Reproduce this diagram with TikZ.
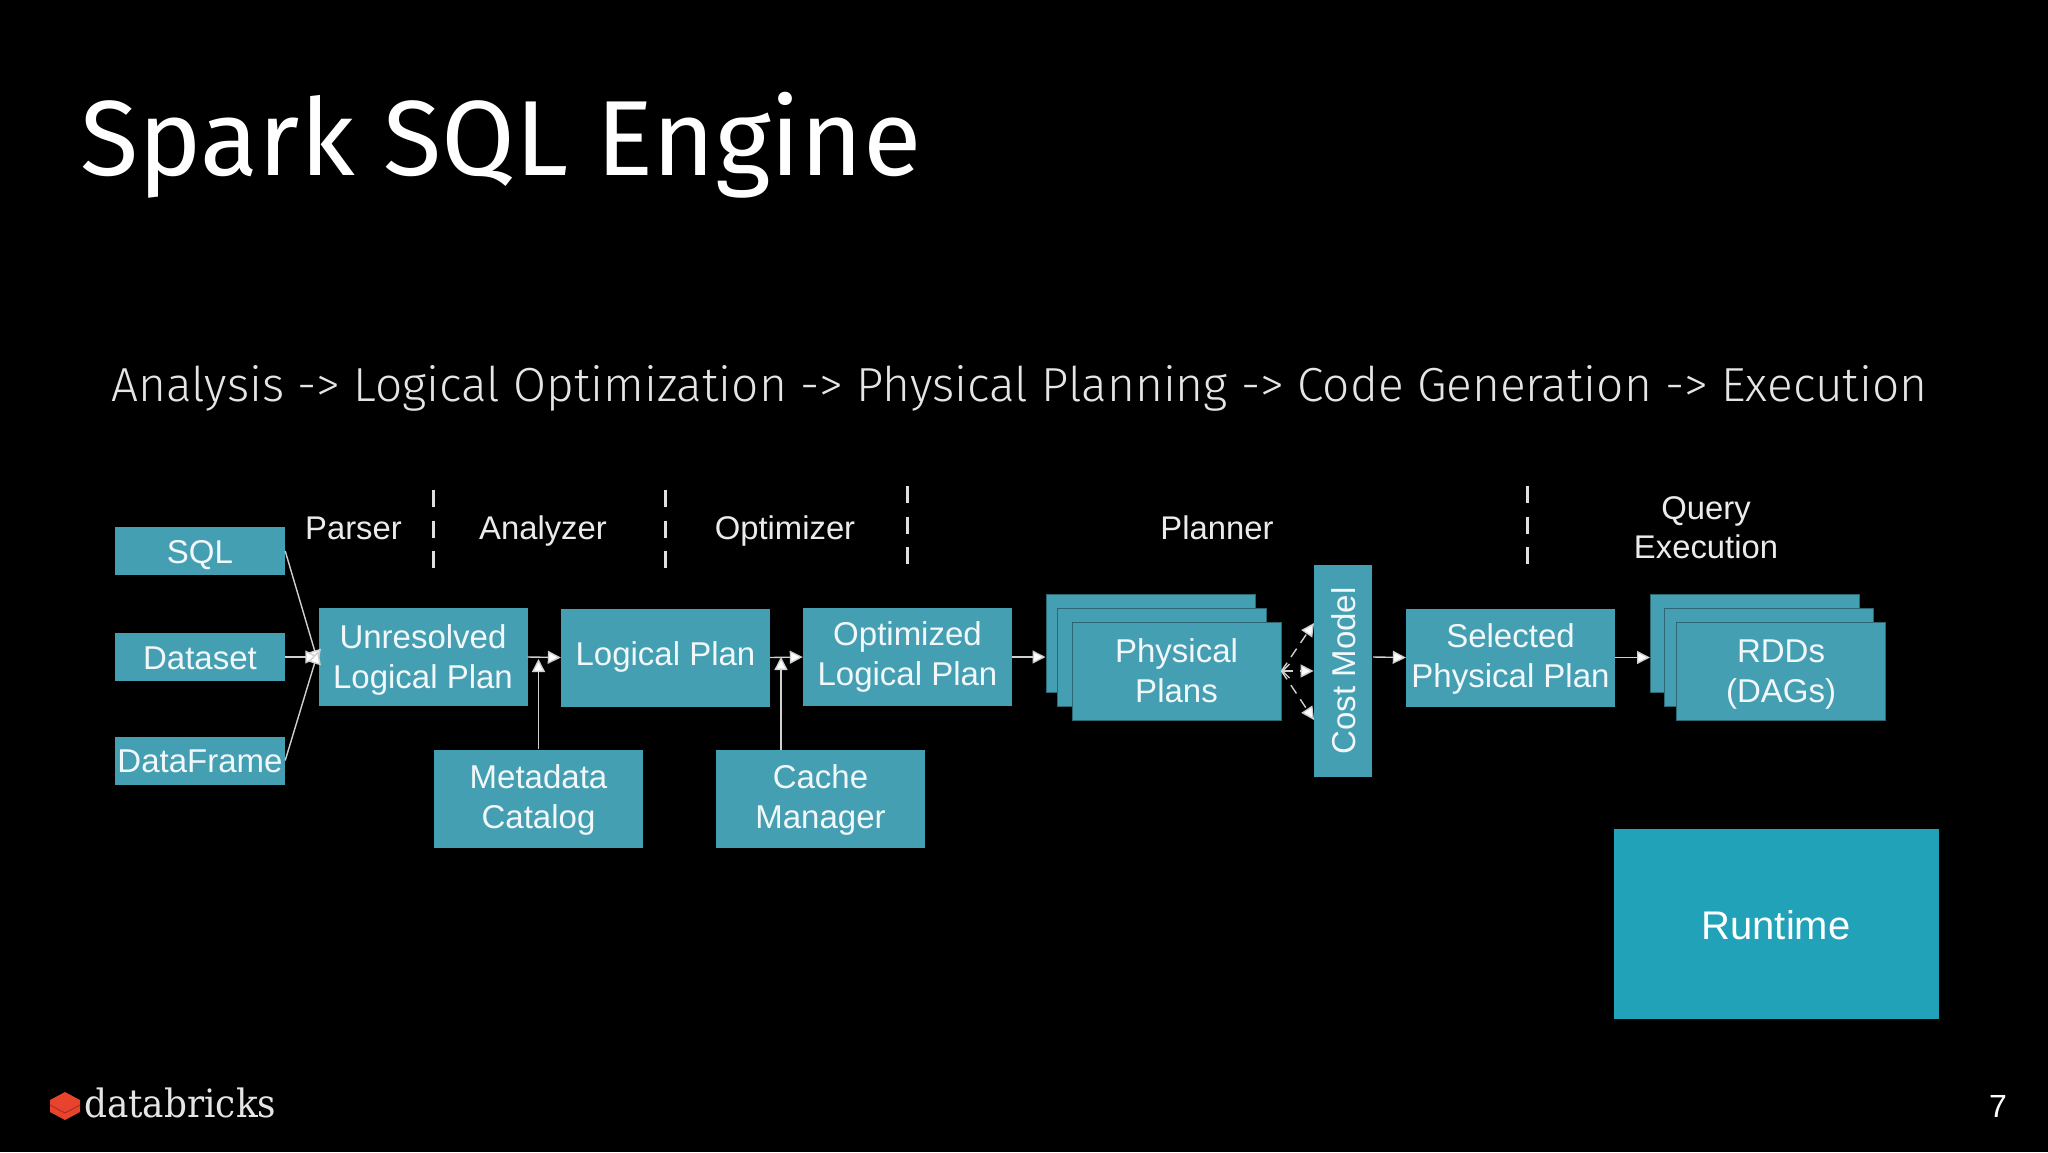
\documentclass[tikz,border=0pt]{standalone}
\usepackage{fontspec}
\usetikzlibrary{arrows.meta}
\setmainfont{Liberation Sans}
\newfontfamily\titlefont{Fira Sans}
\newfontfamily\subfont{Fira Sans Light}
\newfontfamily\logofont{DejaVu Serif}
\definecolor{teal}{HTML}{459FB3}
\definecolor{rt}{HTML}{21A2B9}
\definecolor{ln}{HTML}{D0D0D0}
\definecolor{logored}{HTML}{E8432C}
\definecolor{logodark}{HTML}{A82A1A}
\tikzset{
  boxbase/.style={fill=teal,text=white!93!teal,inner sep=0pt,align=center,font=\fontsize{33}{39.5}\selectfont},
  oneline/.style={text height=24pt,text depth=0pt},
  twoline/.style={text height=#1,text depth=0pt},
  twoline/.default=62pt,
  inbox/.style={boxbase,oneline,minimum width=170,minimum height=48},
  plan/.style={boxbase,minimum width=209,minimum height=98},
  stackbox/.style={plan,draw=black!35!teal,line width=1pt},
  lab/.style={text=white!92!black,inner sep=0pt,anchor=base,font=\fontsize{32.8}{39}\selectfont},
  sep/.style={draw=white!88!black,line width=3pt,dash pattern=on 17pt off 13.5pt},
  arr/.style={draw=ln,line width=1.4pt,-{Triangle[length=13pt,width=13pt,fill=white]}},
  dasharr/.style={arr,dash pattern=on 10pt off 7pt},
}
\begin{document}
\begin{tikzpicture}[x=1pt,y=-1pt]
\useasboundingbox[fill=black] (0,0) rectangle (2048,1152);
\node[text=white,anchor=base west,inner sep=0pt,font=\titlefont\fontsize{106.8}{110}\selectfont] (title) at (80,175) {Spark SQL Engine};
\node[text=white!90!black,anchor=base,inner sep=0pt,font=\subfont\fontsize{47.8}{56}\selectfont] (sub) at (1019.5,401) {Analysis -> Logical Optimization -> Physical Planning -> Code Generation -> Execution};

\node[inbox] (sql) at (200,551) {SQL};
\node[inbox] (ds) at (200,657) {Dataset};
\node[inbox] (df) at (200,760.5) {DataFrame};
\node[plan,twoline] (ulp) at (423,657) {Unresolved\\Logical Plan};
\node[plan,text height=16pt,text depth=0pt] (lp) at (665.5,657.5) {Logical Plan};
\node[plan,twoline=56pt] (olp) at (907.5,657) {Optimized\\Logical Plan};
\node[plan,twoline=59pt] (mc) at (538.5,798.5) {Metadata\\Catalog};
\node[plan,twoline=59pt] (cm) at (820.5,798.5) {Cache\\Manager};
\node[stackbox] (pa) at (1150.5,643.5) {};
\node[stackbox] (pb) at (1162,657) {};
\node[stackbox,twoline] (pc) at (1176.5,671) {Physical\\Plans};
\node[boxbase,oneline,rotate=90,minimum width=212,minimum height=58.5] (cost) at (1343,671) {Cost Model};
\node[plan,twoline=59pt] (spp) at (1510.5,657.5) {Selected\\Physical Plan};
\node[stackbox] (ra) at (1755,643.5) {};
\node[stackbox] (rb) at (1768.5,657) {};
\node[stackbox,twoline] (rc) at (1781,671) {RDDs\\(DAGs)};
\node[fill=rt,text=white,inner sep=0pt,minimum width=325,minimum height=190,text height=31pt,text depth=0pt,font=\fontsize{40}{46}\selectfont] (run) at (1776,924) {Runtime};

\node[lab] (lparser) at (353.5,539) {Parser};
\node[lab] (lanalyzer) at (543,539) {Analyzer};
\node[lab] (loptimizer) at (785,539) {Optimizer};
\node[lab] (lplanner) at (1217,539) {Planner};
\node[lab,anchor=center,align=center] (lquery) at (1706,528) {Query\\Execution};

\coordinate (s1a) at (433,490); \coordinate (s1b) at (433,580);
\coordinate (s2a) at (665,490); \coordinate (s2b) at (665,580);
\coordinate (s3a) at (907,486); \coordinate (s3b) at (907,576);
\coordinate (s4a) at (1527,486); \coordinate (s4b) at (1527,576);
\draw[sep] (s1a) -- (s1b);
\draw[sep] (s2a) -- (s2b);
\draw[sep] (s3a) -- (s3b);
\draw[sep] (s4a) -- (s4b);

\draw[arr] (sql.east) -- ([yshift=-6pt]ulp.west);
\draw[arr] (ds.east) -- (ulp.west);
\draw[arr] (df.east) -- ([yshift=6pt]ulp.west);
\draw[arr] (ulp.east) -- (lp.west);
\coordinate (mctip) at (538.5,659);
\draw[arr] (mc.north) -- (mctip);
\draw[arr] (lp.east) -- (olp.west);
\coordinate (cmtip) at (781,657);
\coordinate (cmfoot) at (781,750);
\draw[arr] (cmfoot) -- (cmtip);
\draw[arr] (olp.east) -- (pa.west |- olp.east);
\coordinate (cup) at (1314,623);
\coordinate (cdn) at (1314,720);
\draw[dasharr] (pc.east) -- (cup);
\draw[dasharr] (pc.east) -- (cdn);
\draw[arr,{Straight Barb[length=7pt,width=14pt]}-{Triangle[length=13pt,width=13pt,fill=white]},dash pattern=on 10pt off 7pt] (pc.east) -- (cost.north);
\coordinate (costout) at (1373,657);
\draw[arr] (costout) -- (spp.west);
\draw[arr] (spp.east) -- (ra.west |- spp.east);

% logo
\fill[logored] (65,1092) -- (80,1100) -- (80,1112) -- (65,1120) -- (50,1112) -- (50,1100) -- cycle;
\draw[logodark,line width=0.8pt] (50,1105) -- (65,1113) -- (80,1105);
\node[text=white!90!black,anchor=base west,inner sep=0pt,xscale=.92,transform shape,font=\logofont\fontsize{39}{44}\selectfont] (logo) at (84,1117) {databricks};
\node[text=white,anchor=center,inner sep=0pt,font=\fontsize{32}{36}\selectfont] (pnum) at (1998,1106) {7};
\end{tikzpicture}
\end{document}
